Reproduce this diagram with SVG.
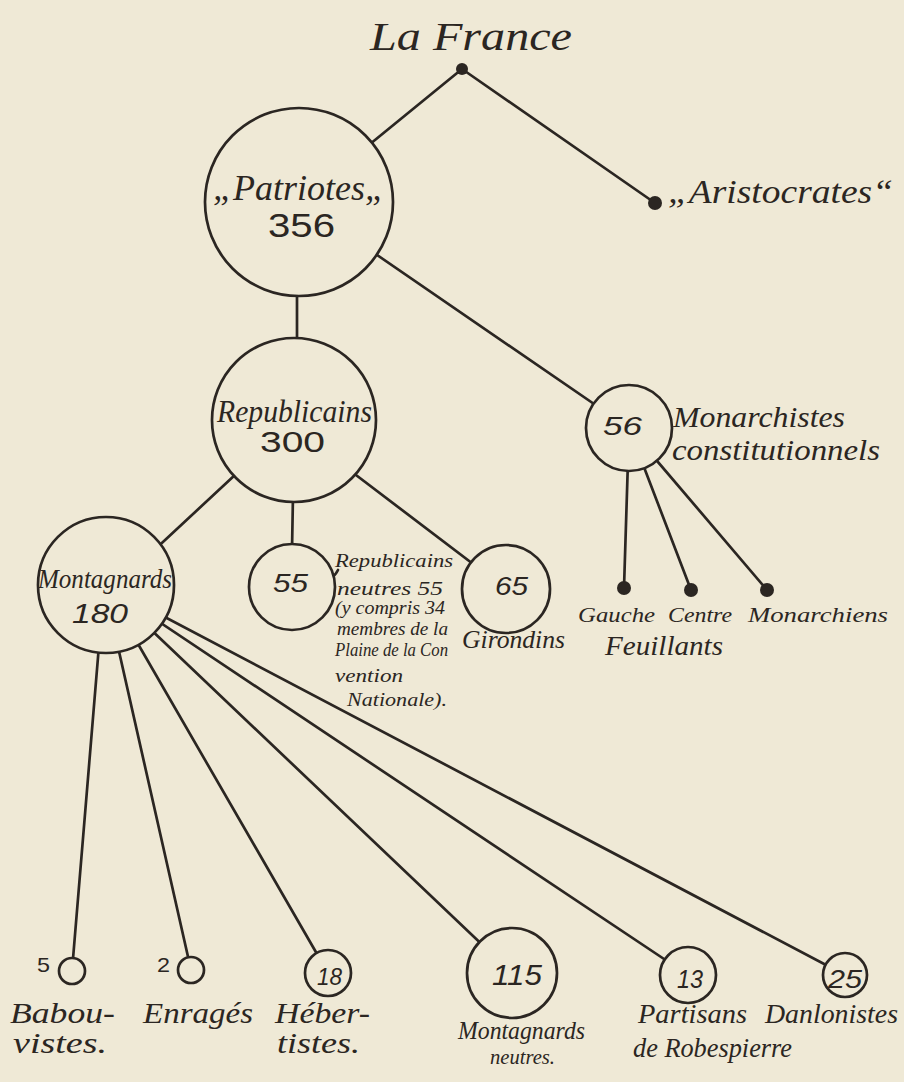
<svg xmlns="http://www.w3.org/2000/svg" width="904" height="1082" viewBox="0 0 904 1082">
<style>
.bg{fill:#efe9d6}
.ln{stroke:#2b2622;stroke-width:2.7;fill:none;stroke-linecap:round}
.nd{stroke:#2b2622;stroke-width:2.7;fill:#efe9d6}
.dot{fill:#2b2622}
.w{font-family:"Liberation Serif","DejaVu Serif",serif;font-style:italic;fill:#2b2622}
.n{font-family:"Liberation Sans","DejaVu Sans",sans-serif;fill:#2b2622}
.ni{font-family:"Liberation Sans","DejaVu Sans",sans-serif;font-style:italic;fill:#2b2622}
</style>
<rect class="bg" x="0" y="0" width="904" height="1082"/>
<g id="connectors">
<line class="ln" x1="462" y1="69" x2="299" y2="202"/>
<line class="ln" x1="462" y1="69" x2="655" y2="203"/>
<line class="ln" x1="297" y1="290" x2="297" y2="345"/>
<line class="ln" x1="377" y1="255" x2="629" y2="428"/>
<line class="ln" x1="236" y1="474" x2="106" y2="595"/>
<line class="ln" x1="293" y1="495" x2="292" y2="550"/>
<line class="ln" x1="352" y1="472" x2="506" y2="589"/>
<line class="ln" x1="629" y1="428" x2="624" y2="588"/>
<line class="ln" x1="629" y1="428" x2="691" y2="590"/>
<line class="ln" x1="629" y1="428" x2="767" y2="590"/>
<line class="ln" x1="104" y1="585" x2="72" y2="971"/>
<line class="ln" x1="104" y1="585" x2="191" y2="970"/>
<line class="ln" x1="104" y1="585" x2="328" y2="973"/>
<line class="ln" x1="104" y1="585" x2="512" y2="973"/>
<line class="ln" x1="104" y1="585" x2="688" y2="975"/>
<line class="ln" x1="104" y1="585" x2="845" y2="975"/>
<path class="ln" d="M321 581 C326 572 331 584 338 570" stroke-width="2"/>
</g>
<g id="france">
<text class="w" x="370" y="50" font-size="40" textLength="202" lengthAdjust="spacingAndGlyphs">La France</text>
<circle class="dot" cx="462" cy="69" r="6"/>
</g>
<g id="aristocrates">
<circle class="dot" cx="655" cy="203" r="7"/>
<text class="w" x="668" y="203" font-size="34" textLength="225" lengthAdjust="spacingAndGlyphs">„Aristocrates“</text>
</g>
<g id="patriotes">
<circle class="nd" cx="299" cy="202" r="94"/>
<text class="w" x="213" y="200" font-size="36" textLength="172" lengthAdjust="spacingAndGlyphs">„Patriotes„</text>
<text class="n" x="268" y="237" font-size="34" textLength="67" lengthAdjust="spacingAndGlyphs">356</text>
</g>
<g id="republicains">
<circle class="nd" cx="294" cy="420" r="82"/>
<text class="w" x="217" y="422" font-size="32" textLength="155" lengthAdjust="spacingAndGlyphs">Republicains</text>
<text class="n" x="260" y="452" font-size="29" textLength="65" lengthAdjust="spacingAndGlyphs">300</text>
</g>
<g id="monarchistes">
<circle class="nd" cx="629" cy="428" r="43"/>
<text class="ni" x="603" y="435" font-size="26" textLength="39" lengthAdjust="spacingAndGlyphs">56</text>
<text class="w" x="673" y="427" font-size="29" textLength="172" lengthAdjust="spacingAndGlyphs">Monarchistes</text>
<text class="w" x="672" y="460" font-size="29" textLength="208" lengthAdjust="spacingAndGlyphs">constitutionnels</text>
</g>
<g id="gauche">
<circle class="dot" cx="624" cy="588" r="7"/>
<text class="w" x="578" y="622" font-size="22" textLength="77" lengthAdjust="spacingAndGlyphs">Gauche</text>
</g>
<g id="centre">
<circle class="dot" cx="691" cy="590" r="7"/>
<text class="w" x="668" y="622" font-size="22" textLength="64" lengthAdjust="spacingAndGlyphs">Centre</text>
</g>
<g id="monarchiens">
<circle class="dot" cx="767" cy="590" r="7"/>
<text class="w" x="748" y="622" font-size="22" textLength="140" lengthAdjust="spacingAndGlyphs">Monarchiens</text>
</g>
<g id="feuillants">
<text class="w" x="605" y="655" font-size="28" textLength="118" lengthAdjust="spacingAndGlyphs">Feuillants</text>
</g>
<g id="montagnards">
<circle class="nd" cx="106" cy="585" r="68"/>
<text class="w" x="38" y="588" font-size="28" textLength="134" lengthAdjust="spacingAndGlyphs">Montagnards</text>
<text class="ni" x="72" y="623" font-size="27" textLength="56" lengthAdjust="spacingAndGlyphs">180</text>
</g>
<g id="neutres">
<circle class="nd" cx="292" cy="587" r="43"/>
<text class="ni" x="273" y="592" font-size="25" textLength="35" lengthAdjust="spacingAndGlyphs">55</text>
<text class="w" font-size="19">
<tspan x="335" y="567" textLength="118" lengthAdjust="spacingAndGlyphs">Republicains</tspan>
<tspan x="337" y="595" textLength="106" lengthAdjust="spacingAndGlyphs">neutres 55</tspan>
<tspan x="335" y="614" textLength="110" lengthAdjust="spacingAndGlyphs">(y compris 34</tspan>
<tspan x="337" y="635" textLength="111" lengthAdjust="spacingAndGlyphs">membres de la</tspan>
<tspan x="335" y="656" textLength="113" lengthAdjust="spacingAndGlyphs">Plaine de la Con</tspan>
<tspan x="335" y="682" textLength="68" lengthAdjust="spacingAndGlyphs">vention</tspan>
<tspan x="347" y="706" textLength="100" lengthAdjust="spacingAndGlyphs">Nationale).</tspan>
</text>
</g>
<g id="girondins">
<circle class="nd" cx="506" cy="589" r="44"/>
<text class="ni" x="495" y="595" font-size="25" textLength="33" lengthAdjust="spacingAndGlyphs">65</text>
<text class="w" x="462" y="648" font-size="25" textLength="103" lengthAdjust="spacingAndGlyphs">Girondins</text>
</g>
<g id="babouvistes">
<circle class="nd" cx="72" cy="971" r="13"/>
<text class="n" x="37" y="972" font-size="21" textLength="13" lengthAdjust="spacingAndGlyphs">5</text>
<text class="w" x="10" y="1023" font-size="30" textLength="105" lengthAdjust="spacingAndGlyphs">Babou-</text>
<text class="w" x="13" y="1053" font-size="30" textLength="94" lengthAdjust="spacingAndGlyphs">vistes.</text>
</g>
<g id="enrages">
<circle class="nd" cx="191" cy="970" r="13"/>
<text class="n" x="157" y="972" font-size="21" textLength="13" lengthAdjust="spacingAndGlyphs">2</text>
<text class="w" x="143" y="1023" font-size="30" textLength="110" lengthAdjust="spacingAndGlyphs">Enragés</text>
</g>
<g id="hebertistes">
<circle class="nd" cx="328" cy="973" r="23"/>
<text class="ni" x="317" y="985" font-size="23" textLength="25" lengthAdjust="spacingAndGlyphs">18</text>
<text class="w" x="275" y="1023" font-size="30" textLength="95" lengthAdjust="spacingAndGlyphs">Héber-</text>
<text class="w" x="277" y="1053" font-size="30" textLength="83" lengthAdjust="spacingAndGlyphs">tistes.</text>
</g>
<g id="montagnards-neutres">
<circle class="nd" cx="512" cy="973" r="45"/>
<text class="ni" x="492" y="985" font-size="29" textLength="50" lengthAdjust="spacingAndGlyphs">115</text>
<text class="w" x="458" y="1039" font-size="26" textLength="127" lengthAdjust="spacingAndGlyphs">Montagnards</text>
<text class="w" x="490" y="1064" font-size="20" textLength="65" lengthAdjust="spacingAndGlyphs">neutres.</text>
</g>
<g id="robespierre">
<circle class="nd" cx="688" cy="975" r="28"/>
<text class="ni" x="677" y="988" font-size="25" textLength="26" lengthAdjust="spacingAndGlyphs">13</text>
<text class="w" x="638" y="1023" font-size="28" textLength="109" lengthAdjust="spacingAndGlyphs">Partisans</text>
<text class="w" x="633" y="1057" font-size="28" textLength="159" lengthAdjust="spacingAndGlyphs">de Robespierre</text>
</g>
<g id="dantonistes">
<circle class="nd" cx="845" cy="975" r="22"/>
<text class="ni" x="828" y="988" font-size="25" textLength="34" lengthAdjust="spacingAndGlyphs">25</text>
<text class="w" x="765" y="1023" font-size="28" textLength="133" lengthAdjust="spacingAndGlyphs">Danlonistes</text>
</g>
</svg>
